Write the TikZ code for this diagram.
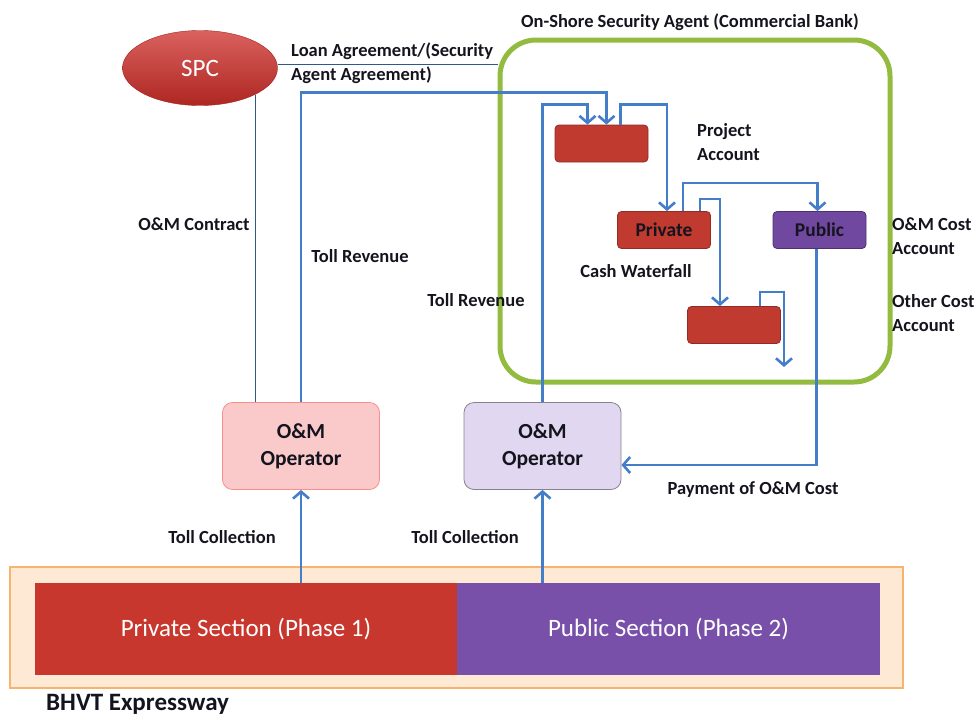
\documentclass[tikz,border=0pt]{standalone}
\usepackage{fontspec}
\setmainfont{Carlito}
\usetikzlibrary{arrows.meta,positioning,shapes.geometric,calc}

\definecolor{flowblue}{RGB}{68,126,200}
\definecolor{bankgreen}{RGB}{146,187,64}
\definecolor{acctred}{RGB}{192,58,48}
\definecolor{acctpurple}{RGB}{112,72,160}
\definecolor{spcred}{RGB}{205,45,40}
\definecolor{opone}{RGB}{250,202,202}
\definecolor{optwo}{RGB}{226,215,240}
\definecolor{roadfill}{RGB}{253,233,212}
\definecolor{roadline}{RGB}{247,180,110}
\definecolor{secred}{RGB}{200,55,45}
\definecolor{secpurple}{RGB}{120,80,170}
\definecolor{txtdark}{RGB}{20,20,30}

\begin{document}
\begin{tikzpicture}[
  x=1pt,y=-1pt,
  acct/.style={draw=acctred!75!black,thick,rounded corners=4pt,minimum width=93pt,minimum height=37pt,font=\fontsize{19.5}{22}\selectfont\bfseries,text=txtdark},
  oper/.style={draw,thick,rounded corners=10pt,minimum width=157pt,minimum height=87pt,align=center,font=\fontsize{21.5}{27}\selectfont\bfseries,text=txtdark},
  sect/.style={minimum height=92pt,text=white,font=\fontsize{25}{28}\selectfont},
  lbl/.style={font=\fontsize{18.5}{23.5}\selectfont\bfseries,text=txtdark,align=left,inner sep=0pt},
  flow/.style={-{Straight Barb[length=7pt,width=16pt]},line width=2.6pt,draw=flowblue},
  thinln/.style={draw=flowblue!70!black,line width=0.7pt}
]
\useasboundingbox (0,0) rectangle (979,715);

% the bank (security agent)
\node[draw=bankgreen,line width=5pt,rounded corners=36pt,minimum width=390pt,minimum height=342pt] (bank) at (695,211) {};
\node[lbl] (banklbl) at (690,22) {On-Shore Security Agent (Commercial Bank)};

\node[ellipse,top color=spcred!75!white,bottom color=spcred!85!black,draw=spcred!80!black,minimum width=155pt,minimum height=75pt,text=white,font=\fontsize{25}{28}\selectfont] (spc) at (200,68) {SPC};

% accounts
\node[acct,fill=acctred] (proj)  at (601.5,143.5) {};
\node[acct,fill=acctred] (priv)  at (664,230) {Private};
\node[acct,fill=acctpurple,draw=acctpurple!70!black] (pub) at (819.5,230) {Public};
\node[acct,fill=acctred] (other) at (734,325) {};
\coordinate (otherout) at (784,367);

\node[oper,fill=opone,draw=opone!70!red] (op1) at (301,446) {O\&M\\Operator};
\node[oper,fill=optwo,draw=optwo!60!black] (op2) at (542.5,446) {O\&M\\Operator};

% expressway
\node[draw=roadline,fill=roadfill,line width=2pt,minimum width=893pt,minimum height=121pt] (road) at (456.5,627.5) {};
\node[sect,fill=secred,minimum width=422pt] (privsec) at (246,629) {Private Section (Phase 1)};
\node[sect,fill=secpurple,minimum width=423pt] (pubsec) at (668.5,629) {Public Section (Phase 2)};
\node[lbl,anchor=west,font=\fontsize{25}{28}\selectfont\bfseries] (bhvt) at (46,704) {BHVT Expressway};

% agreements
\draw[thinln] ([yshift=4pt]spc.east) -- ([yshift=4pt]spc.east -| bank.west);
\draw[thinln] (spc.south east) -- (spc.south east |- op1.north);

% cash flows
\draw[flow] (privsec.north -| op1.south) -- (op1.south);
\draw[flow] (pubsec.north -| op2.south) -- (op2.south);
\draw[flow] (op1.north) |- ([xshift=5pt,yshift=32pt]proj.north) -- ([xshift=5pt]proj.north);
\draw[flow] (op2.north) |- ([xshift=-14pt,yshift=20pt]proj.north) -- ([xshift=-14pt]proj.north);
\draw[flow] ([xshift=19pt]proj.north) -- ++(0,-20) -| ([xshift=3pt]priv.north);
\draw[flow] ([xshift=19pt]priv.north) -- ++(0,-28) -| ([xshift=-2pt]pub.north);
\draw[flow] ([xshift=36pt]priv.north) -- ++(0,-12) -| ([xshift=-14pt]other.north);
\draw[flow] ([xshift=26pt]other.north) -- ++(0,-14) -| (otherout);
\draw[flow] ([xshift=-3pt]pub.south) |- ([yshift=-19pt]op2.east);

% labels
\node[lbl,anchor=north west] (loanlbl) at (291,43) {Loan Agreement/(Security\\Agent Agreement)};
\node[lbl] (contractlbl) at (194,224) {O\&M Contract};
\node[lbl] (rev1lbl) at (360,256) {Toll Revenue};
\node[lbl] (rev2lbl) at (476,300) {Toll Revenue};
\node[lbl,anchor=west] (projlbl) at (697,142) {Project\\Account};
\node[lbl] (waterlbl) at (636,271) {Cash Waterfall};
\node[lbl,anchor=west] (omlbl) at (892,236) {O\&M Cost\\Account};
\node[lbl,anchor=west] (otherlbl) at (892,313) {Other Cost\\Account};
\node[lbl] (paylbl) at (753,490) {Payment of O\&M Cost};
\node[lbl] (coll1lbl) at (222,537) {Toll Collection};
\node[lbl] (coll2lbl) at (465,537) {Toll Collection};
\end{tikzpicture}
\end{document}
